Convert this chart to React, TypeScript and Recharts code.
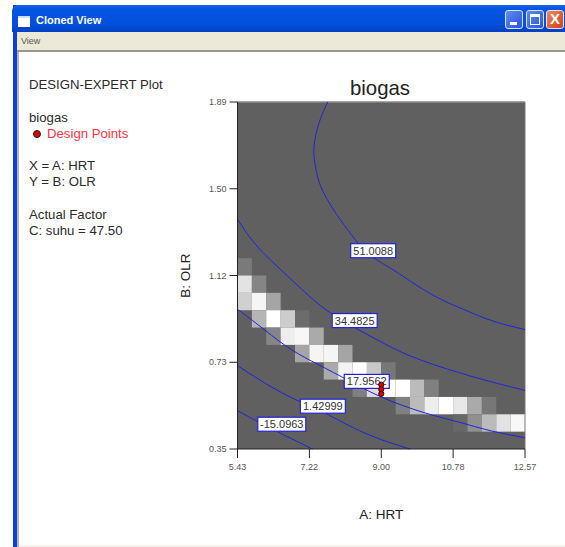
import {
  ComposedChart,
  Line,
  Scatter,
  XAxis,
  YAxis,
  ReferenceArea,
  ReferenceLine,
} from 'recharts';

const xTicks = [5.43, 7.215, 9.0, 10.785, 12.57];
const xTickLabels = ['5.43', '7.22', '9.00', '10.78', '12.57'];
const yTicks = [0.35, 0.735, 1.12, 1.505, 1.89];
const yTickLabels = ['0.35', '0.73', '1.12', '1.50', '1.89'];

const X_MIN = 5.43;
const X_MAX = 12.57;
const Y_MIN = 0.35;
const Y_MAX = 1.89;
const GRID = 20;

// desirability grid: [column, row from the bottom, brightness]
const heatCells = [
  [0, 10, 122],
  [0, 9, 227], [1, 9, 133],
  [0, 8, 208], [1, 8, 245], [2, 8, 165],
  [1, 7, 181], [2, 7, 255], [3, 7, 204], [4, 7, 108],
  [2, 6, 133], [3, 6, 238], [4, 6, 247], [5, 6, 170],
  [4, 5, 165], [5, 5, 245], [6, 5, 245], [7, 5, 165],
  [6, 4, 170], [7, 4, 243], [8, 4, 255], [9, 4, 200], [10, 4, 119],
  [8, 3, 127], [9, 3, 221], [10, 3, 255], [11, 3, 255], [12, 3, 187], [13, 3, 128],
  [11, 2, 128], [12, 2, 187], [13, 2, 238], [14, 2, 255], [15, 2, 232], [16, 2, 170], [17, 2, 119],
  [15, 1, 104], [16, 1, 144], [17, 1, 187], [18, 1, 227], [19, 1, 248],
];

const contour51 = [
  { x: 7.67, y: 1.89 }, { x: 7.46, y: 1.8 }, { x: 7.33, y: 1.69 }, { x: 7.38, y: 1.59 },
  { x: 7.65, y: 1.46 }, { x: 8.35, y: 1.28 }, { x: 8.8, y: 1.2 }, { x: 9.34, y: 1.14 },
  { x: 9.76, y: 1.09 }, { x: 10.42, y: 1.02 }, { x: 11.04, y: 0.97 }, { x: 11.74, y: 0.92 },
  { x: 12.57, y: 0.88 },
];
const contour34 = [
  { x: 5.43, y: 1.37 }, { x: 5.82, y: 1.27 }, { x: 6.36, y: 1.17 }, { x: 7.02, y: 1.06 },
  { x: 7.77, y: 0.95 }, { x: 8.84, y: 0.84 }, { x: 9.76, y: 0.76 }, { x: 10.91, y: 0.69 },
  { x: 11.91, y: 0.64 }, { x: 12.57, y: 0.61 },
];
const contour17 = [
  { x: 5.43, y: 0.97 }, { x: 5.95, y: 0.9 }, { x: 6.61, y: 0.81 }, { x: 7.27, y: 0.74 },
  { x: 8.02, y: 0.67 }, { x: 9.01, y: 0.58 }, { x: 10.09, y: 0.51 }, { x: 10.91, y: 0.47 },
  { x: 11.74, y: 0.43 }, { x: 12.57, y: 0.4 },
];
const contour1 = [
  { x: 5.43, y: 0.72 }, { x: 5.95, y: 0.66 }, { x: 6.53, y: 0.6 }, { x: 7.11, y: 0.55 },
  { x: 7.6, y: 0.51 }, { x: 8.6, y: 0.42 }, { x: 9.71, y: 0.35 },
];
const contourNeg15 = [
  { x: 5.43, y: 0.52 }, { x: 5.95, y: 0.47 }, { x: 6.61, y: 0.41 }, { x: 7.29, y: 0.35 },
];
const contours = [contour51, contour34, contour17, contour1, contourNeg15];

const contourLabels = [
  { text: '51.0088', x: 8.8, y: 1.23 },
  { text: '34.4825', x: 8.34, y: 0.92 },
  { text: '17.9562', x: 8.64, y: 0.65 },
  { text: '1.42999', x: 7.55, y: 0.54 },
  { text: '-15.0963', x: 6.53, y: 0.46 },
];

const designPoints = [
  { x: 9.0, y: 0.635 },
  { x: 9.0, y: 0.615 },
  { x: 9.0, y: 0.595 },
];

const legendLines = [
  { text: 'DESIGN-EXPERT Plot', top: 77 },
  { text: 'biogas', top: 110 },
  { text: 'X = A: HRT', top: 158 },
  { text: 'Y = B: OLR', top: 174 },
  { text: 'Actual Factor', top: 207 },
  { text: 'C: suhu = 47.50', top: 223 },
];

const FONT = '"Liberation Sans", Arial, sans-serif';
const LINE_BLUE = '#2222dd';

function ContourLabel({ cx, cy, payload }: any) {
  const text = payload.text;
  const w = text.length > 7 ? 48 : 45;
  return (
    <g>
      <rect x={cx - w / 2} y={cy - 7} width={w} height={14} fill="#fff" stroke={LINE_BLUE} strokeWidth={1.2} />
      <text x={cx} y={cy + 4} textAnchor="middle" fontSize={11} fontFamily={FONT} fill="#333">
        {text}
      </text>
    </g>
  );
}

function DesignDot({ cx, cy }: any) {
  return <circle cx={cx} cy={cy} r={2.6} fill="#e00000" stroke="#300" strokeWidth={1} />;
}

function WindowChrome() {
  const btn = (left: number, bg: string, glyph: React.ReactNode) => (
    <div
      style={{
        position: 'absolute', left, top: 10, width: 18, height: 19, borderRadius: 3,
        background: bg, border: '1px solid #d8e4f8', boxSizing: 'border-box',
      }}
    >
      {glyph}
    </div>
  );
  return (
    <>
      <div style={{ position: 'absolute', left: 13, top: 5, width: 4, height: 542, background: '#0f3fd8' }} />
      <div style={{ position: 'absolute', left: 17, top: 50, width: 2, height: 497, background: '#b4b4b0' }} />
      <div style={{ position: 'absolute', left: 19, top: 545, width: 546, height: 2, background: '#f5f3ea' }} />
      <div
        style={{
          position: 'absolute', left: 12, top: 5, width: 553, height: 27, borderRadius: '6px 0 0 0',
          background: 'linear-gradient(#1a66e8 0%, #0554e3 15%, #0450dc 70%, #0340c0 100%)',
        }}
      />
      <div style={{ position: 'absolute', left: 18, top: 16, width: 12, height: 9, background: '#fff', borderTop: '2px solid #cfe0ff' }} />
      <div
        style={{
          position: 'absolute', left: 36, top: 14, color: '#fff', fontFamily: FONT,
          fontWeight: 700, fontSize: 11, lineHeight: '13px',
        }}
      >
        Cloned View
      </div>
      {btn(505, 'linear-gradient(135deg, #5f8cf0, #2a55d8)',
        <div style={{ position: 'absolute', left: 4, top: 11, width: 7, height: 3, background: '#fff' }} />)}
      {btn(526, 'linear-gradient(135deg, #5f8cf0, #2a55d8)',
        <div style={{ position: 'absolute', left: 3, top: 3, width: 10, height: 11, border: '1px solid #fff', borderTopWidth: 3, boxSizing: 'border-box' }} />)}
      {btn(546, 'linear-gradient(135deg, #ea8a60, #d2401a)',
        <div style={{ position: 'absolute', left: 0, top: -1, width: 16, textAlign: 'center', color: '#fff', fontFamily: FONT, fontWeight: 700, fontSize: 15, lineHeight: '18px' }}>X</div>)}
      <div style={{ position: 'absolute', left: 17, top: 32, width: 548, height: 18, background: '#ece9d8' }} />
      <div style={{ position: 'absolute', left: 17, top: 50, width: 548, height: 1.5, background: '#9a988c' }} />
      <div style={{ position: 'absolute', left: 21, top: 36, color: '#555', fontFamily: FONT, fontSize: 9, lineHeight: '10px' }}>View</div>
    </>
  );
}

export default function App() {
  const cellW = (X_MAX - X_MIN) / GRID;
  const cellH = (Y_MAX - Y_MIN) / GRID;
  return (
    <div style={{ position: 'absolute', left: 0, top: 0, width: 565, height: 547, background: '#fff', overflow: 'hidden' }}>
      <WindowChrome />

      {legendLines.map((l) => (
        <div
          key={l.text}
          style={{ position: 'absolute', left: 29, top: l.top, fontFamily: FONT, fontSize: 13.2, lineHeight: '16px', color: '#2a2a2a' }}
        >
          {l.text}
        </div>
      ))}
      <div style={{ position: 'absolute', left: 33, top: 130, width: 6, height: 6, borderRadius: '50%', background: '#d00', border: '1px solid #222', boxSizing: 'content-box' }} />
      <div style={{ position: 'absolute', left: 47, top: 126, fontFamily: FONT, fontSize: 13.2, lineHeight: '16px', color: '#ff3344' }}>
        Design Points
      </div>

      <div style={{ position: 'absolute', left: 236, top: 76, width: 288, textAlign: 'center', fontFamily: FONT, fontSize: 20.4, lineHeight: '24px', color: '#222' }}>
        biogas
      </div>

      <ComposedChart
        width={565}
        height={547}
        margin={{ top: 102, right: 40, bottom: 97, left: 236.5 }}
        style={{ position: 'absolute', left: 0, top: 0 }}
      >
        <XAxis
          type="number"
          dataKey="x"
          domain={[X_MIN, X_MAX]}
          ticks={xTicks}
          interval={0}
          height={1}
          tickSize={9}
          tickMargin={6}
          tickFormatter={(_, i) => xTickLabels[i]}
          tick={{ fontSize: 9, fill: '#555', fontFamily: FONT }}
          stroke="#222"
          label={{ value: 'A: HRT', position: 'bottom', offset: 59, fontSize: 13.5, fill: '#222', fontFamily: FONT }}
        />
        <YAxis
          type="number"
          dataKey="y"
          domain={[Y_MIN, Y_MAX]}
          ticks={yTicks}
          interval={0}
          width={1}
          tickSize={8}
          tickMargin={3}
          tickFormatter={(_, i) => yTickLabels[i]}
          tick={{ fontSize: 9, fill: '#555', fontFamily: FONT }}
          stroke="#222"
          label={{ value: 'B: OLR', angle: -90, position: 'left', offset: 51, textAnchor: 'middle', fontSize: 13.5, fill: '#222', fontFamily: FONT }}
        />

        <ReferenceArea x1={X_MIN} x2={X_MAX} y1={Y_MIN} y2={Y_MAX} fill="#606060" fillOpacity={1} stroke="none" ifOverflow="visible" />
        {heatCells.map(([col, row, level]) => (
          <ReferenceArea
            key={`${col}-${row}`}
            x1={X_MIN + col * cellW}
            x2={X_MIN + (col + 1) * cellW}
            y1={Y_MIN + row * cellH}
            y2={Y_MIN + (row + 1) * cellH}
            fill={`rgb(${level},${level},${level})`}
            fillOpacity={1}
            stroke="none"
            ifOverflow="visible"
          />
        ))}
        <ReferenceLine y={Y_MAX} stroke="#888" strokeWidth={1.5} ifOverflow="visible" />
        <ReferenceLine x={X_MAX} stroke="#777" ifOverflow="visible" />

        {contours.map((data, i) => (
          <Line
            key={i}
            data={data}
            dataKey="y"
            type="natural"
            stroke={LINE_BLUE}
            strokeWidth={1}
            dot={false}
            activeDot={false}
            legendType="none"
            isAnimationActive={false}
          />
        ))}

        <Scatter data={contourLabels} shape={ContourLabel} isAnimationActive={false} />
        <Scatter data={designPoints} shape={DesignDot} isAnimationActive={false} />
      </ComposedChart>
    </div>
  );
}
